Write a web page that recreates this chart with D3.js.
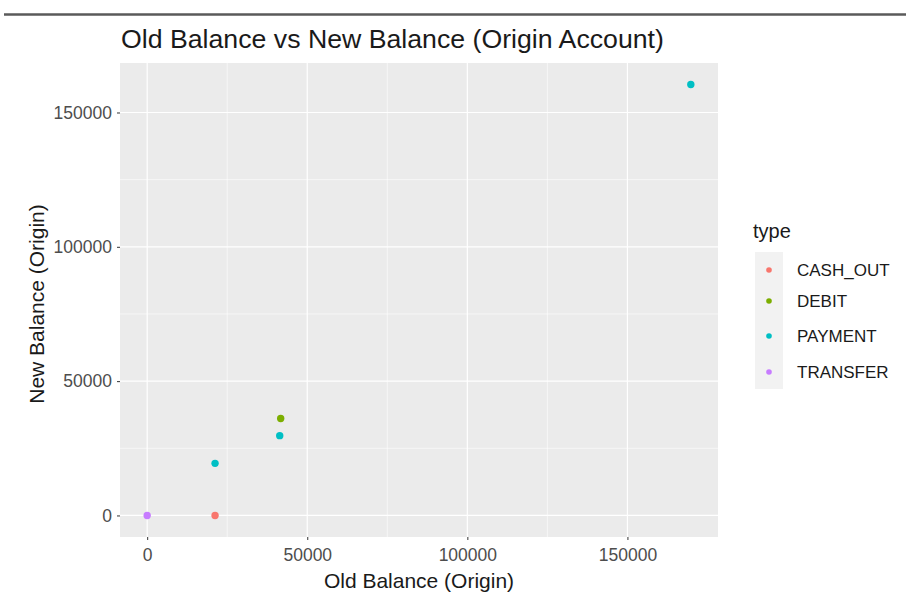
<!DOCTYPE html>
<html><head><meta charset="utf-8">
<script src="https://cdn.jsdelivr.net/npm/d3@7"></script>
<style>body{margin:0;background:#fff}svg{display:block;font-family:"Liberation Sans",Arial,sans-serif}</style>
</head><body>
<svg id="c" width="906" height="599"></svg>
<script>
const types = ["CASH_OUT","DEBIT","PAYMENT","TRANSFER"];
const colors = ["#F8766D","#7CAE00","#00BFC4","#C77CFF"];
const oldBalance = [0, 21200, 21200, 41700, 41400, 169800];
const newBalance = [0, 0, 19400, 36100, 29700, 160400];
const pointType = ["TRANSFER","CASH_OUT","PAYMENT","DEBIT","PAYMENT","PAYMENT"];
const xTicks = [0, 50000, 100000, 150000];
const yTicks = [0, 50000, 100000, 150000];
const xMinor = [25000, 75000, 125000];
const yMinor = [25000, 75000, 125000];

const svg = d3.select("#c");
const L=120, R=718, T=63, B=537;
const xmin=0,xmax=169800,ymin=0,ymax=160400;
const ex=(xmax-xmin)*0.05, ey=(ymax-ymin)*0.05;
const x=d3.scaleLinear().domain([xmin-ex,xmax+ex]).range([L,R]);
const y=d3.scaleLinear().domain([ymin-ey,ymax+ey]).range([B,T]);
const color=d3.scaleOrdinal().domain(types).range(colors);

// top rule
svg.append("line").attr("x1",4).attr("x2",906).attr("y1",14.5).attr("y2",14.5).attr("stroke","#5a5a5a").attr("stroke-width",2.5);

svg.append("rect").attr("x",L).attr("y",T).attr("width",R-L).attr("height",B-T).attr("fill","#ebebeb");
const g=svg.append("g");
xMinor.forEach(v=>g.append("line").attr("x1",x(v)).attr("x2",x(v)).attr("y1",T).attr("y2",B).attr("stroke","#fff").attr("stroke-width",0.6));
yMinor.forEach(v=>g.append("line").attr("y1",y(v)).attr("y2",y(v)).attr("x1",L).attr("x2",R).attr("stroke","#fff").attr("stroke-width",0.6));
xTicks.forEach(v=>g.append("line").attr("x1",x(v)).attr("x2",x(v)).attr("y1",T).attr("y2",B).attr("stroke","#fff").attr("stroke-width",1.2));
yTicks.forEach(v=>g.append("line").attr("y1",y(v)).attr("y2",y(v)).attr("x1",L).attr("x2",R).attr("stroke","#fff").attr("stroke-width",1.2));

const xAxis=svg.append("g").attr("transform",`translate(0,${B})`).call(d3.axisBottom(x).tickValues(xTicks).tickFormat(d3.format("d")).tickSize(3).tickPadding(4));
const yAxis=svg.append("g").attr("transform",`translate(${L},0)`).call(d3.axisLeft(y).tickValues(yTicks).tickFormat(d3.format("d")).tickSize(3).tickPadding(5));
[xAxis,yAxis].forEach(a=>{a.select(".domain").remove();a.selectAll("line").attr("stroke","#333");a.selectAll("text").attr("fill","#4d4d4d").style("font-size","17.5px");});
xAxis.selectAll("text").attr("dy","0.95em");

const pts=oldBalance.map((v,i)=>({x:v,y:newBalance[i],t:pointType[i]}));
svg.append("g").selectAll("circle").data(pts).join("circle")
 .attr("cx",d=>x(d.x)).attr("cy",d=>y(d.y)).attr("r",3.7).attr("fill",d=>color(d.t));

svg.append("text").attr("x",121).attr("y",48).text("Old Balance vs New Balance (Origin Account)").attr("fill","#1a1a1a").style("font-size","26.7px");
svg.append("text").attr("x",(L+R)/2).attr("y",588).attr("text-anchor","middle").text("Old Balance (Origin)").attr("fill","#1a1a1a").style("font-size","21px");
svg.append("text").attr("transform",`translate(44,${(T+B)/2+4}) rotate(-90)`).attr("text-anchor","middle").text("New Balance (Origin)").attr("fill","#1a1a1a").style("font-size","21px");

// legend
svg.append("text").attr("x",753).attr("y",238).text("type").attr("fill","#1a1a1a").style("font-size","20px");
const ly=[270,301,336,372];
svg.append("rect").attr("x",755).attr("y",252).attr("width",28).attr("height",137).attr("fill","#f2f2f2");
types.forEach((t,i)=>{
  svg.append("circle").attr("cx",769).attr("cy",ly[i]).attr("r",2.8).attr("fill",color(t));
  svg.append("text").attr("x",797).attr("y",ly[i]+6).text(t).attr("fill","#1a1a1a").style("font-size","17px");
});
</script>
</body></html>
